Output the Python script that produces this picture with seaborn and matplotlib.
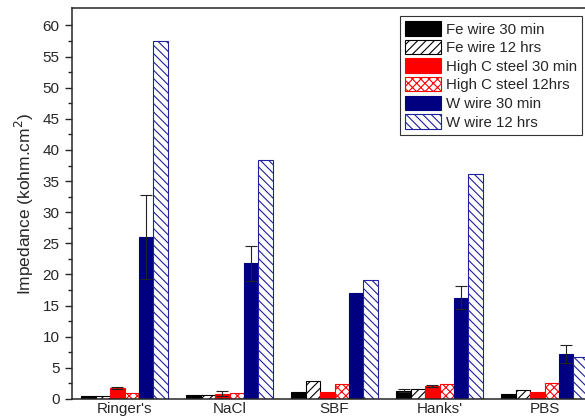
import numpy as np
import pandas as pd
import matplotlib
matplotlib.use("Agg")
import matplotlib.pyplot as plt
import seaborn as sns

# ─────────────────────────────────────────────
# data
# ─────────────────────────────────────────────
solutions = ["Ringer's", "NaCl", "SBF", "Hanks'", "PBS"]
series = ["Fe wire 30 min", "Fe wire 12 hrs", "High C steel 30 min",
          "High C steel 12hrs", "W wire 30 min", "W wire 12 hrs"]

fe_30 = [0.55, 0.70, 1.15, 1.30, 0.75]
fe_12 = [0.50, 0.65, 2.90, 1.55, 1.40]
hc_30 = [1.75, 0.85, 1.10, 2.15, 1.20]
hc_12 = [1.00, 0.90, 2.45, 2.45, 2.60]
w_30 = [26.0, 21.8, 17.1, 16.3, 7.2]
w_12 = [57.5, 38.4, 19.1, 36.2, 6.8]

fe_30_err = [0.0, 0.0, 0.0, 0.25, 0.0]
fe_12_err = [0.0, 0.0, 0.0, 0.0, 0.0]
hc_30_err = [0.10, 0.40, 0.0, 0.15, 0.0]
hc_12_err = [0.0, 0.0, 0.0, 0.0, 0.0]
w_30_err = [6.7, 2.8, 0.0, 1.9, 1.4]
w_12_err = [0.0, 0.0, 0.0, 0.0, 0.0]

values = [fe_30, fe_12, hc_30, hc_12, w_30, w_12]
errors = [fe_30_err, fe_12_err, hc_30_err, hc_12_err, w_30_err, w_12_err]

# styles: face, edge, hatch
styles = [
    ("black", "black", None),
    ("white", "black", "////"),
    ("#ff0000", "#ff0000", None),
    ("white", "#ff0000", "xxxx"),
    ("#000080", "#000080", None),
    ("white", "#2020a0", "\\\\\\\\"),
]

rows = []
for name, vals in zip(series, values):
    for sol, v in zip(solutions, vals):
        rows.append({"solution": sol, "series": name, "value": v})
df = pd.DataFrame(rows)

sns.set_style("ticks")
plt.rcParams["font.family"] = ["Liberation Sans", "DejaVu Sans"]
plt.rcParams["hatch.linewidth"] = 0.8

fig = plt.figure(figsize=(5.85, 4.18), dpi=100)
ax = fig.add_axes([72 / 585, 1 - 399 / 418, 525 / 585, 391 / 418])

sns.barplot(data=df, x="solution", y="value", hue="series",
            order=solutions, hue_order=series, errorbar=None,
            width=0.82, gap=0, legend=False, ax=ax,
            palette=[s[0] for s in styles], saturation=1)

for cont, (face, edge, hatch), errs in zip(ax.containers, styles, errors):
    for bar, e in zip(cont.patches, errs):
        bar.set_facecolor(face)
        bar.set_edgecolor(edge)
        bar.set_linewidth(0.8)
        if hatch:
            bar.set_hatch(hatch)
        if e > 0:
            ax.errorbar(bar.get_x() + bar.get_width() / 2, bar.get_height(),
                        yerr=e, fmt="none", ecolor="#222222",
                        elinewidth=0.8, capsize=4, capthick=0.8)

ax.set_xlim(-0.5, 4.5)
ax.set_ylim(0, 62.8)
ax.set_yticks(np.arange(0, 61, 5))
ax.set_yticks(np.arange(2.5, 61, 5), minor=True)
ax.tick_params(axis="y", which="major", length=5, width=1, labelsize=11, pad=4)
ax.tick_params(axis="y", which="minor", length=3, width=1)
ax.tick_params(axis="x", length=0, labelsize=11, pad=2)
ax.set_xlabel("")
ax.set_ylabel("Impedance (kohm.cm$^2$)", fontsize=12.5, labelpad=5)
for sp in ax.spines.values():
    sp.set_visible(True)
    sp.set_linewidth(1.1)

leg = ax.legend(handles=list(ax.containers), labels=series,
                loc="upper right", bbox_to_anchor=(582 / 585, 1 - 16 / 418),
                bbox_transform=fig.transFigure, fontsize=10.8,
                frameon=True, fancybox=False, edgecolor="black",
                handlelength=2.4, handleheight=1.1, labelspacing=0.22,
                handletextpad=0.3, borderpad=0.35, borderaxespad=0)
leg.get_frame().set_linewidth(0.8)

fig.savefig("out.png", dpi=100)
